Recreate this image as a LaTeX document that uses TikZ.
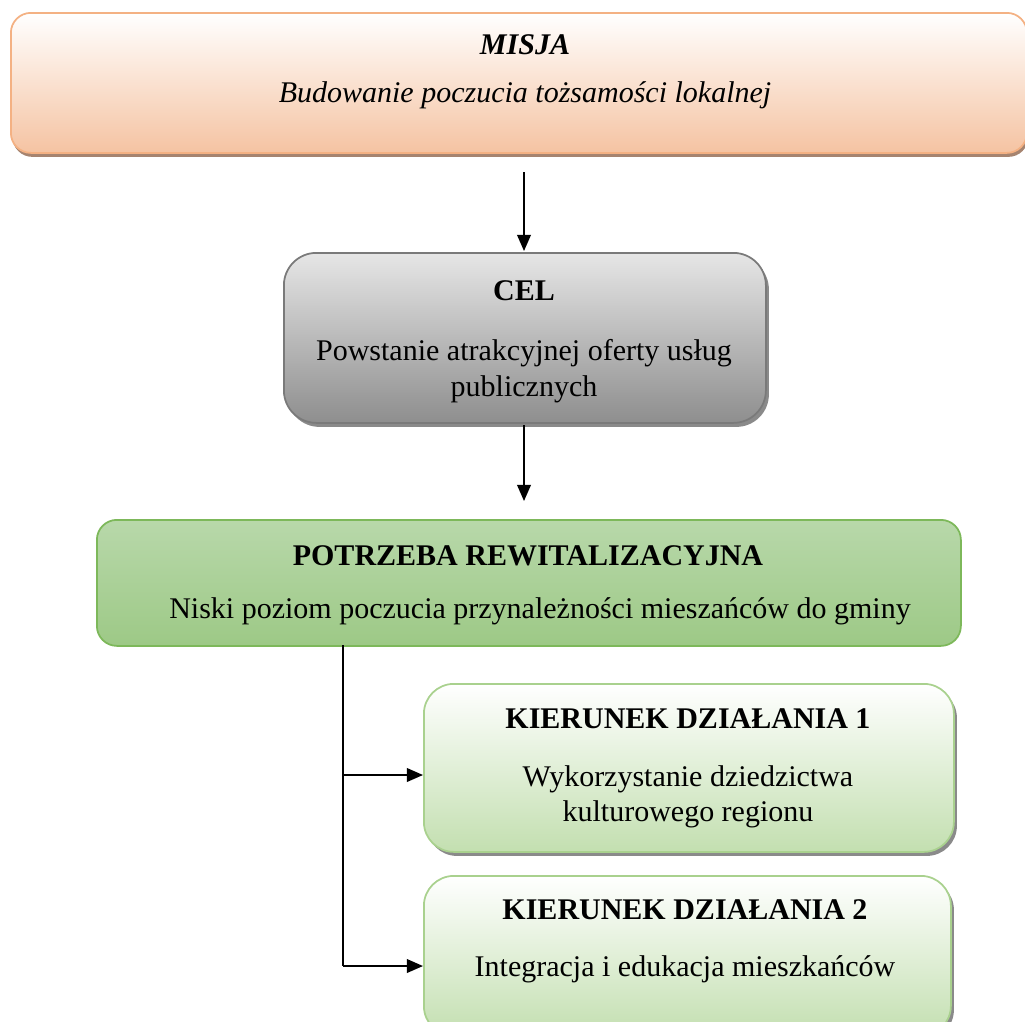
\documentclass[tikz,border=0pt]{standalone}
\usepackage{fontspec}
\setmainfont{Liberation Serif}
\usetikzlibrary{arrows.meta}
\definecolor{misjaborder}{HTML}{F4B183}
\definecolor{misjabot}{HTML}{F5C3A2}
\definecolor{misjashadow}{HTML}{A68470}
\definecolor{celtop}{HTML}{E6E6E6}
\definecolor{celbot}{HTML}{8E8E8E}
\definecolor{celborder}{HTML}{7A7A7A}
\definecolor{greentop}{HTML}{B8D8AA}
\definecolor{greenbot}{HTML}{9DC986}
\definecolor{greenborder}{HTML}{7DB85A}
\definecolor{ktop}{HTML}{FFFFFF}
\definecolor{kbot}{HTML}{C3DFB0}
\definecolor{kborder}{HTML}{A9D18E}
\definecolor{grayshadow}{HTML}{8A8A8A}
\begin{document}
\begin{tikzpicture}[x=0.4pt,y=-0.4pt,
  txt/.style={font=\fontsize{12}{14}\selectfont, inner sep=0pt, anchor=center, align=center},
  boxbase/.style={draw, line width=0.7pt, anchor=north west, inner sep=0pt},
  misjabox/.style={boxbase, rounded corners=8pt, draw=misjaborder, top color=white, bottom color=misjabot,
     preaction={fill=misjashadow, transform canvas={shift={(0.6pt,-1.6pt)}}}},
  celbox/.style={boxbase, rounded corners=13pt, draw=celborder, top color=celtop, bottom color=celbot,
     preaction={fill=grayshadow, transform canvas={shift={(1.2pt,-1.6pt)}}}},
  greenbox/.style={boxbase, rounded corners=8pt, draw=greenborder, top color=greentop, bottom color=greenbot},
  kbox/.style={boxbase, rounded corners=12pt, draw=kborder, top color=ktop, bottom color=kbot,
     preaction={fill=grayshadow, transform canvas={shift={(1.2pt,-1.6pt)}}}},
  conn/.style={line width=0.7pt, draw=black},
  arr/.style={conn, -{Triangle[length=6.5pt,width=5.5pt]}}
]
\useasboundingbox (0,0) rectangle (1025,1021);

% MISJA
\node[misjabox, minimum width=406.4pt, minimum height=56pt] (misja) at (10,12) {};
\node[txt, font=\fontsize{12}{14}\selectfont\bfseries\itshape] (misjaT) at (525,45) {MISJA};
\node[txt, font=\fontsize{12}{14}\selectfont\itshape] (misjaS) at (525,95) {Budowanie poczucia tożsamości lokalnej};

% CEL
\node[celbox, minimum width=192.8pt, minimum height=68pt] (cel) at (283,252) {};
\node[txt, font=\fontsize{12}{14}\selectfont\bfseries] (celT) at (524,291) {CEL};
\node[txt] (celS) at (524,371) {Powstanie atrakcyjnej oferty usług\\[0.4pt]publicznych};

% POTRZEBA
\node[greenbox, minimum width=345.6pt, minimum height=50.4pt] (potrz) at (96,519) {};
\node[txt, font=\fontsize{12}{14}\selectfont\bfseries] (potrzT) at (528,556) {POTRZEBA REWITALIZACYJNA};
\node[txt] (potrzS) at (540,611) {Niski poziom poczucia przynależności mieszańców do gminy};

% KIERUNEK 1
\node[kbox, minimum width=212pt, minimum height=67.2pt] (k1) at (423,683) {};
\node[txt, font=\fontsize{12}{14}\selectfont\bfseries] (k1T) at (688,719) {KIERUNEK DZIAŁANIA 1};
\node[txt] (k1S) at (688,797) {Wykorzystanie dziedzictwa\\kulturowego regionu};

% KIERUNEK 2
\node[kbox, minimum width=210.8pt, minimum height=64pt] (k2) at (423,875) {};
\node[txt, font=\fontsize{12}{14}\selectfont\bfseries] (k2T) at (685,910) {KIERUNEK DZIAŁANIA 2};
\node[txt] (k2S) at (685,969) {Integracja i edukacja mieszkańców};

% connectors
\coordinate (a1s) at (524,172);
\coordinate (a1e) at (524,251);
\draw[arr] (a1s) -- (a1e);
\coordinate (a2s) at (524,425);
\coordinate (a2e) at (524,501);
\draw[arr] (a2s) -- (a2e);
\coordinate (trunkTop) at (343,645);
\coordinate (trunkBot) at (343,966);
\draw[conn] (trunkTop) -- (trunkBot);
\coordinate (b1) at (343,775);
\coordinate (b1e) at (423,775);
\draw[arr] (b1) -- (b1e);
\coordinate (b2e) at (423,966);
\draw[arr] (trunkBot) -- (b2e);
\end{tikzpicture}
\end{document}
